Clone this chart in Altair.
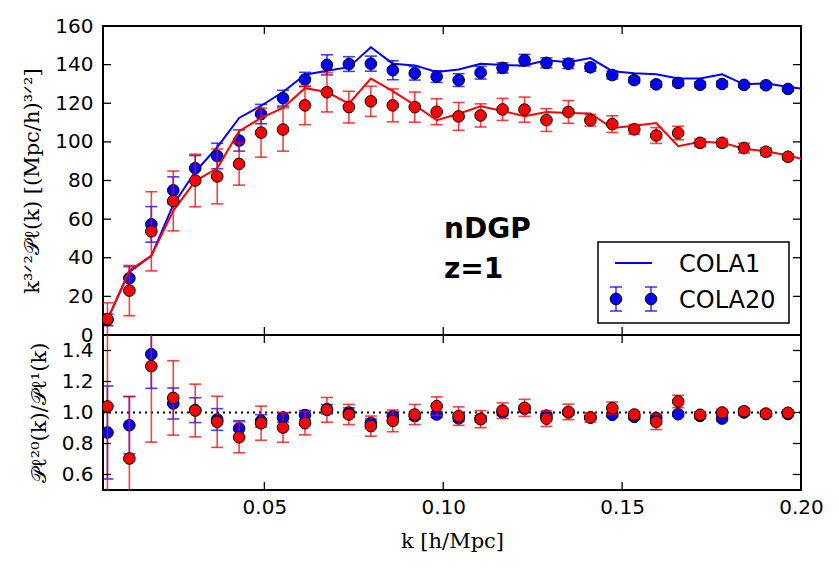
import altair as alt
import pandas as pd

# k bins [h/Mpc]
k = [0.00614, 0.01227, 0.01841, 0.02454, 0.03068, 0.03682, 0.04295, 0.04909,
     0.05522, 0.06136, 0.06750, 0.07363, 0.07977, 0.08590, 0.09204, 0.09817,
     0.10431, 0.11045, 0.11658, 0.12272, 0.12885, 0.13499, 0.14113, 0.14726,
     0.15340, 0.15953, 0.16567, 0.17181, 0.17794, 0.18408, 0.19021, 0.19635]
# COLA1 curves carry one extra bin past the plotted range
k_line = k + [0.20249]

# COLA20 mean and scatter, k^{3/2} P_l(k)
blue_pts = [7.8, 29.4, 57.3, 74.9, 86.4, 92.7, 100.7, 114.4, 122.6, 132.3, 139.9,
            140.3, 140.5, 137.1, 135.5, 133.8, 132.0, 135.8, 138.3, 142.3, 140.9,
            140.5, 138.6, 134.6, 132.0, 129.8, 130.5, 129.6, 130.0, 129.5, 129.3, 127.4]
blue_err = [3.0, 6.0, 9.2, 7.0, 6.5, 6.6, 5.5, 5.0, 4.1, 3.7, 5.2, 3.8, 3.9, 4.9,
            3.5, 3.0, 3.3, 3.3, 2.6, 3.0, 2.6, 2.5, 2.0, 2.0, 1.5, 1.5, 1.5, 1.5,
            1.5, 1.2, 1.2, 1.2]
red_pts = [8.2, 23.0, 53.7, 69.4, 80.0, 82.1, 88.6, 104.8, 106.4, 118.9, 125.7,
           118.0, 121.0, 118.9, 118.0, 115.6, 113.2, 113.7, 116.8, 116.7, 111.3,
           115.5, 111.2, 109.2, 106.5, 103.3, 104.6, 99.5, 99.5, 96.8, 94.9, 92.3]
red_err = [8.5, 13.0, 20.5, 15.5, 13.6, 14.2, 11.0, 12.7, 11.2, 10.0, 10.2, 8.2,
           7.8, 8.5, 7.8, 6.7, 7.2, 6.0, 5.7, 6.5, 5.9, 5.9, 3.0, 4.3, 2.5, 4.1,
           3.5, 2.0, 2.0, 2.5, 2.0, 1.5]

# COLA1 curves
blue_line = [8.1, 32.7, 41.0, 67.5, 84.5, 97.2, 112.4, 118.7, 125.8, 134.8, 136.8,
             138.7, 149.0, 140.5, 139.6, 136.2, 137.5, 140.4, 139.8, 139.5, 142.2,
             141.2, 143.4, 136.6, 135.5, 135.0, 132.8, 132.8, 135.0, 129.8, 130.3,
             128.4, 127.1]
red_line = [8.0, 33.5, 41.0, 64.3, 79.7, 86.3, 105.5, 112.4, 117.6, 127.8, 125.8,
            119.8, 132.8, 126.3, 119.0, 111.2, 114.6, 118.4, 116.0, 113.3, 115.5,
            114.9, 114.7, 107.2, 108.4, 109.8, 97.8, 100.0, 99.6, 96.4, 95.1, 92.9,
            90.2]

# ratio P^20 / P^1
blue_ratio = [0.871, 0.918, 1.376, 1.058, 1.015, 0.955, 0.897, 0.946, 0.968, 0.983,
              1.021, 1.000, 0.933, 0.976, 0.976, 0.987, 0.962, 0.959, 1.000, 1.024,
              0.980, 1.000, 0.968, 0.985, 0.972, 0.965, 0.989, 0.978, 0.961, 1.000,
              0.990, 0.990]
blue_ratio_err = [0.30, 0.185, 0.22, 0.10, 0.08, 0.07, 0.05, 0.04, 0.03, 0.03, 0.03,
                  0.03, 0.025, 0.025, 0.02, 0.02, 0.02, 0.02, 0.02, 0.02, 0.015,
                  0.015, 0.015, 0.015, 0.015, 0.015, 0.015, 0.015, 0.015, 0.015,
                  0.015, 0.015]
red_ratio = [1.039, 0.703, 1.299, 1.094, 1.013, 0.940, 0.840, 0.931, 0.903, 0.931,
             1.017, 0.987, 0.912, 0.946, 0.987, 1.041, 0.977, 0.957, 1.012, 1.030,
             0.960, 1.004, 0.968, 1.028, 0.987, 0.940, 1.071, 0.985, 1.000, 1.008,
             0.993, 0.998]
red_ratio_err = [0.60, 0.40, 0.49, 0.24, 0.17, 0.165, 0.10, 0.11, 0.095, 0.075, 0.08,
                 0.065, 0.065, 0.07, 0.065, 0.06, 0.06, 0.055, 0.05, 0.055, 0.05,
                 0.05, 0.03, 0.04, 0.02, 0.05, 0.04, 0.02, 0.02, 0.02, 0.02, 0.02]

x_ticks = [0.05, 0.10, 0.15, 0.20]
top_ticks = [0, 20, 40, 60, 80, 100, 120, 140, 160]
bot_ticks = [0.6, 0.8, 1.0, 1.2, 1.4]
legend_labels = ["COLA1", "COLA20"]
panel_text = ["nDGP", "z=1"]

W, H_TOP, H_BOT = 698, 309, 155
BLUE, RED = "#0000ff", "#ff0000"
TICK_LEN = 8
DOT = 135

pts = pd.DataFrame({
    "k": k,
    "blue": blue_pts, "blue_err": blue_err,
    "red": red_pts, "red_err": red_err,
    "blue_ratio": blue_ratio, "blue_ratio_err": blue_ratio_err,
    "red_ratio": red_ratio, "red_ratio_err": red_ratio_err,
})
lines = pd.DataFrame({"k": k_line, "blue": blue_line, "red": red_line})

x_scale = alt.Scale(domain=[0.0049, 0.2], nice=False, zero=False)
top_scale = alt.Scale(domain=[0, 160], nice=False, zero=False)
bot_scale = alt.Scale(domain=[0.5, 1.5], nice=False, zero=False)

LABELS = dict(labelFont="DejaVu Sans", labelFontSize=20, labelColor="black",
              labelFlush=False, labelOverlap=False, ticks=False, domain=False,
              grid=False, titleFont="DejaVu Serif", titleFontSize=21,
              titleFontWeight="normal", titleColor="black")

x_axis_hidden = None
x_axis_bottom = alt.Axis(values=x_ticks, format=".2f", title="k [h/Mpc]",
                         labelPadding=7, titlePadding=13, **LABELS)
top_axis = alt.Axis(values=top_ticks, format="d", labelPadding=10, titlePadding=12,
                    title="k³ᐟ²𝒫ℓ(k) [(Mpc/h)³ᐟ²]", **LABELS)
bot_axis = alt.Axis(values=bot_ticks, format=".1f", labelPadding=10, titlePadding=12,
                    title="𝒫ℓ²⁰(k)/𝒫ℓ¹(k)", **LABELS)


def X(field, axis):
    return alt.X(f"{field}:Q", scale=x_scale, axis=axis)


def Y(field, scale, axis):
    return alt.Y(f"{field}:Q", scale=scale, axis=axis)


def errorbars(val, err, color, scale, axis, xaxis):
    base = alt.Chart(pts).transform_calculate(
        lo=f"datum.{val} - datum.{err}", hi=f"datum.{val} + datum.{err}")
    bar = base.mark_rule(color=color, strokeWidth=1.6, opacity=0.75, clip=True).encode(
        x=X("k", xaxis), y=Y("lo", scale, axis), y2="hi:Q")
    cap_lo = base.mark_rule(color=color, strokeWidth=1.6, opacity=0.75, clip=True,
                            xOffset=-6, x2Offset=6).encode(
        x=X("k", xaxis), x2="k:Q", y=Y("lo", scale, axis))
    cap_hi = base.mark_rule(color=color, strokeWidth=1.6, opacity=0.75, clip=True,
                            xOffset=-6, x2Offset=6).encode(
        x=X("k", xaxis), x2="k:Q", y=Y("hi", scale, axis))
    dots = alt.Chart(pts).mark_circle(color=color, opacity=1, size=DOT, stroke="black",
                                      strokeWidth=1, clip=True).encode(
        x=X("k", xaxis), y=Y(val, scale, axis))
    return [bar, cap_lo, cap_hi, dots]


def frame_ticks(height, yvals, scale, axis, xaxis):
    xt = alt.Data(values=[{"t": v} for v in x_ticks[:-1]])
    yt = alt.Data(values=[{"t": v} for v in yvals])
    style = dict(color="black", strokeWidth=1.3)
    return [
        alt.Chart(xt).mark_rule(**style).encode(
            x=X("t", xaxis), y=alt.value(height), y2=alt.value(height - TICK_LEN)),
        alt.Chart(xt).mark_rule(**style).encode(
            x=X("t", xaxis), y=alt.value(0), y2=alt.value(TICK_LEN)),
        alt.Chart(yt).mark_rule(**style).encode(
            y=Y("t", scale, axis), x=alt.value(0), x2=alt.value(TICK_LEN)),
        alt.Chart(yt).mark_rule(**style).encode(
            y=Y("t", scale, axis), x=alt.value(W - TICK_LEN), x2=alt.value(W)),
    ]


one = alt.Data(values=[{"n": 1}])

# legend box and entries
legend = [
    alt.Chart(one).mark_rect(fill="white", stroke="black", strokeWidth=1.5).encode(
        x=alt.value(495), x2=alt.value(686), y=alt.value(216), y2=alt.value(297)),
    alt.Chart(one).mark_rule(color=BLUE, strokeWidth=2).encode(
        x=alt.value(512), x2=alt.value(549), y=alt.value(237)),
]
for mx in (513, 548):
    legend += [
        alt.Chart(one).mark_rule(color=BLUE, strokeWidth=1.6, opacity=0.75).encode(
            x=alt.value(mx), y=alt.value(261), y2=alt.value(285)),
        alt.Chart(one).mark_rule(color=BLUE, strokeWidth=1.6, opacity=0.75).encode(
            x=alt.value(mx - 6), x2=alt.value(mx + 6), y=alt.value(261)),
        alt.Chart(one).mark_rule(color=BLUE, strokeWidth=1.6, opacity=0.75).encode(
            x=alt.value(mx - 6), x2=alt.value(mx + 6), y=alt.value(285)),
        alt.Chart(one).mark_circle(color=BLUE, opacity=1, size=DOT, stroke="black",
                                   strokeWidth=1).encode(
            x=alt.value(mx), y=alt.value(273)),
    ]
for label, base_y in zip(legend_labels, (246, 282)):
    legend.append(alt.Chart(one).mark_text(
        text=label, font="DejaVu Sans", fontSize=24, align="left",
        baseline="alphabetic", color="black").encode(
        x=alt.value(576), y=alt.value(base_y)))

annotation = [
    alt.Chart(one).mark_text(text=t, font="DejaVu Sans", fontSize=28,
                             fontWeight="bold", align="left",
                             baseline="alphabetic", color="black").encode(
        x=alt.value(341), y=alt.value(by))
    for t, by in zip(panel_text, (212, 252))
]

blue_curve = alt.Chart(lines).mark_line(color=BLUE, strokeWidth=2, clip=True).encode(
    x=X("k", x_axis_hidden), y=Y("blue", top_scale, top_axis))
red_curve = alt.Chart(lines).mark_line(color=RED, strokeWidth=2, clip=True).encode(
    x=X("k", x_axis_hidden), y=Y("red", top_scale, top_axis))

top = alt.layer(
    blue_curve,
    *errorbars("blue", "blue_err", BLUE, top_scale, top_axis, x_axis_hidden),
    red_curve,
    *errorbars("red", "red_err", RED, top_scale, top_axis, x_axis_hidden),
    *frame_ticks(H_TOP, top_ticks, top_scale, top_axis, x_axis_hidden),
    *annotation,
    *legend,
).properties(width=W, height=H_TOP)

unity = alt.Chart(alt.Data(values=[{"r": 1.0}])).mark_rule(
    color="black", strokeWidth=2, strokeDash=[2, 4]).encode(
    y=Y("r", bot_scale, bot_axis))

bottom = alt.layer(
    unity,
    *errorbars("blue_ratio", "blue_ratio_err", BLUE, bot_scale, bot_axis, x_axis_bottom),
    *errorbars("red_ratio", "red_ratio_err", RED, bot_scale, bot_axis, x_axis_bottom),
    *frame_ticks(H_BOT, bot_ticks, bot_scale, bot_axis, x_axis_bottom),
).properties(width=W, height=H_BOT)

chart = alt.vconcat(top, bottom, spacing=0, bounds="flush").properties(
    padding={"left": 20, "top": 15, "right": 5, "bottom": 5},
    background="white",
).configure_view(stroke="black", strokeWidth=2)

chart.save("out.html", embed_options={"renderer": "svg", "actions": False})
